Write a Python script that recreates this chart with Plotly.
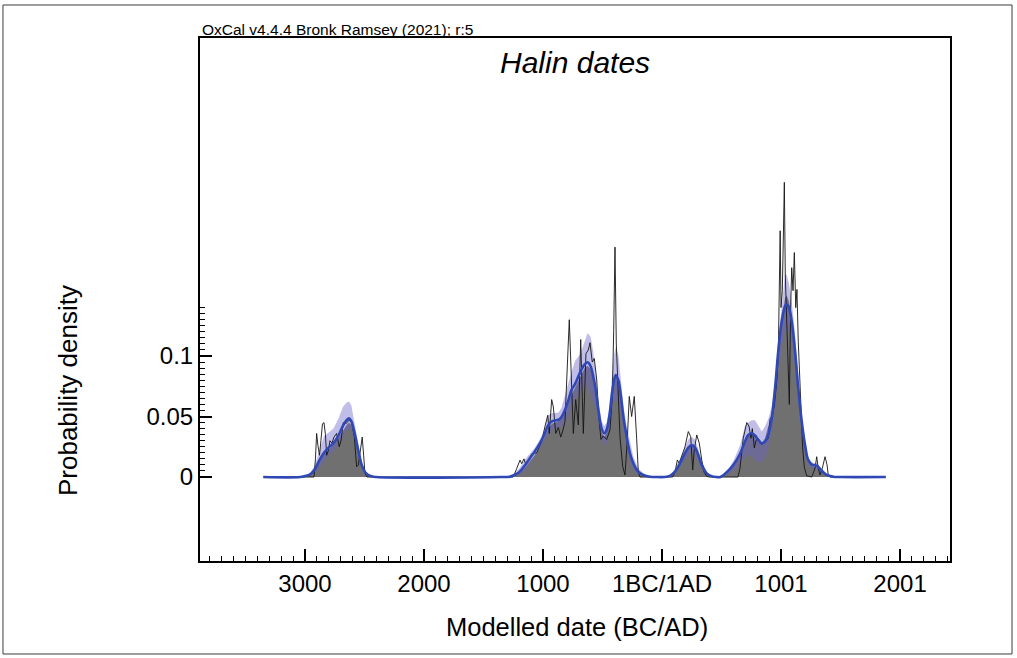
import plotly.graph_objects as go

# ---------------- data (years: negative = BC, 0 = 1BC/1AD boundary) ----------------
RANGE_START, RANGE_END = -3350, 1880

# smooth KDE series, group by group
YEARS_A = [-3040, -3000, -2960, -2920, -2880, -2840, -2800, -2760, -2720, -2680, -2650, -2630, -2610, -2580, -2550, -2520, -2490, -2450, -2400]
MEAN_A = [0, 0.0008, 0.002, 0.006, 0.0135, 0.020, 0.0245, 0.028, 0.034, 0.0425, 0.047, 0.0485, 0.046, 0.035, 0.021, 0.009, 0.0035, 0.0008, 0]
HI_A = [0, 0.0008, 0.003, 0.009, 0.021, 0.034, 0.0368, 0.040, 0.048, 0.058, 0.0616, 0.0624, 0.059, 0.042, 0.026, 0.012, 0.0045, 0.001, 0]
LO_A = [0, 0.0003, 0.001, 0.003, 0.008, 0.013, 0.018, 0.021, 0.026, 0.033, 0.038, 0.040, 0.038, 0.029, 0.016, 0.006, 0.002, 0.0003, 0]
GREY_A = [0, 0.0005, 0.0015, 0.005, 0.012, 0.019, 0.023, 0.027, 0.032, 0.039, 0.043, 0.045, 0.043, 0.034, 0.021, 0.009, 0.003, 0.0006, 0]

YEARS_B = [-1350, -1280, -1240, -1200, -1150, -1110, -1070, -1025, -985, -955, -925, -900, -870, -845, -815, -785, -760, -730, -690, -650, -625, -600, -578, -557, -535, -507, -485, -465, -443, -423, -403, -389, -367, -345, -325, -297, -269, -241, -200, -157, -100, -50]
MEAN_B = [0, 0.0003, 0.0017, 0.004, 0.010, 0.0155, 0.021, 0.028, 0.036, 0.043, 0.046, 0.0467, 0.0473, 0.0495, 0.0556, 0.064, 0.072, 0.077, 0.086, 0.093, 0.0948, 0.0915, 0.083, 0.072, 0.0556, 0.040, 0.036, 0.039, 0.050, 0.0666, 0.080, 0.084, 0.080, 0.0666, 0.050, 0.0334, 0.0196, 0.0114, 0.0044, 0.0017, 0.0003, 0]
HI_B = [0, 0.001, 0.003, 0.007, 0.0147, 0.019, 0.024, 0.031, 0.040, 0.0514, 0.0528, 0.053, 0.0533, 0.057, 0.068, 0.078, 0.087, 0.096, 0.101, 0.112, 0.119, 0.116, 0.104, 0.085, 0.064, 0.046, 0.042, 0.045, 0.056, 0.080, 0.101, 0.107, 0.101, 0.080, 0.060, 0.042, 0.028, 0.017, 0.0072, 0.003, 0.0003, 0]
LO_B = [0, 0, 0.0005, 0.002, 0.005, 0.011, 0.017, 0.024, 0.031, 0.035, 0.039, 0.040, 0.041, 0.042, 0.044, 0.050, 0.058, 0.064, 0.070, 0.076, 0.074, 0.068, 0.062, 0.058, 0.045, 0.032, 0.026, 0.028, 0.040, 0.054, 0.062, 0.064, 0.061, 0.053, 0.040, 0.025, 0.012, 0.006, 0.002, 0.0005, 0, 0]
GREY_B = [0, 0, 0.001, 0.003, 0.008, 0.013, 0.018, 0.025, 0.033, 0.040, 0.044, 0.045, 0.046, 0.049, 0.055, 0.062, 0.068, 0.074, 0.083, 0.090, 0.092, 0.089, 0.080, 0.069, 0.052, 0.037, 0.033, 0.037, 0.048, 0.065, 0.080, 0.086, 0.081, 0.067, 0.050, 0.033, 0.020, 0.012, 0.0045, 0.0015, 0.0002, 0]

YEARS_C = [20, 67, 109, 151, 193, 221, 250, 277, 305, 334, 376, 418, 460]
MEAN_C = [0, 0.001, 0.0044, 0.0113, 0.0196, 0.0243, 0.0265, 0.0245, 0.0182, 0.010, 0.003, 0.0006, 0]
HI_C = [0, 0.0015, 0.006, 0.015, 0.025, 0.031, 0.033, 0.031, 0.023, 0.013, 0.004, 0.001, 0]
LO_C = [0, 0.0005, 0.003, 0.008, 0.014, 0.018, 0.020, 0.018, 0.013, 0.007, 0.002, 0.0003, 0]
GREY_C = [0, 0.001, 0.004, 0.011, 0.019, 0.024, 0.026, 0.024, 0.018, 0.010, 0.003, 0.0005, 0]

YEARS_D = [490, 544, 599, 655, 697, 725, 754, 782, 809, 838, 866, 893, 922, 950, 977, 1006, 1034, 1048, 1067, 1090, 1118, 1145, 1174, 1202, 1229, 1263, 1300, 1336, 1384, 1439, 1500]
MEAN_D = [0, 0.004, 0.010, 0.019, 0.0293, 0.0348, 0.0362, 0.0343, 0.0307, 0.0279, 0.0293, 0.0348, 0.0486, 0.0735, 0.104, 0.1288, 0.1412, 0.1426, 0.1399, 0.1288, 0.104, 0.0735, 0.0459, 0.0265, 0.0141, 0.010, 0.0094, 0.0058, 0.0017, 0.0003, 0]
HI_D = [0, 0.005, 0.013, 0.026, 0.042, 0.045, 0.047, 0.047, 0.042, 0.0376, 0.042, 0.048, 0.058, 0.080, 0.112, 0.138, 0.1675, 0.167, 0.160, 0.145, 0.118, 0.085, 0.052, 0.028, 0.016, 0.012, 0.0113, 0.0075, 0.003, 0.0005, 0]
LO_D = [0, 0.002, 0.005, 0.010, 0.016, 0.018, 0.017, 0.014, 0.012, 0.012, 0.016, 0.024, 0.038, 0.060, 0.086, 0.108, 0.120, 0.122, 0.120, 0.112, 0.090, 0.062, 0.038, 0.020, 0.010, 0.007, 0.006, 0.004, 0.001, 0, 0]
GREY_D = [0, 0.004, 0.010, 0.019, 0.029, 0.035, 0.036, 0.034, 0.030, 0.028, 0.032, 0.042, 0.050, 0.074, 0.104, 0.130, 0.148, 0.150, 0.145, 0.130, 0.104, 0.072, 0.044, 0.025, 0.013, 0.009, 0.008, 0.005, 0.0015, 0.0002, 0]

# summed (unmodelled) distribution, the thin spiky outline
SUM_YEARS_A = [-2924, -2912, -2902, -2891, -2878, -2866, -2853, -2840, -2828, -2818, -2803, -2790, -2773, -2756, -2734, -2712, -2697, -2678, -2655, -2630, -2608, -2586, -2566, -2551, -2538, -2519, -2507, -2496, -2479]
SUM_A = [0, 0.015, 0.036, 0.026, 0.018, 0.030, 0.044, 0.045, 0.035, 0.018, 0.022, 0.030, 0.028, 0.033, 0.036, 0.025, 0.030, 0.045, 0.044, 0.047, 0.045, 0.034, 0.0085, 0.010, 0.020, 0.033, 0.018, 0.003, 0]
SUM_YEARS_B = [-1250, -1221, -1193, -1179, -1160, -1143, -1124, -1095, -1053, -1011, -983, -960, -947, -927, -913, -893, -871, -851, -834, -815, -792, -779, -759, -745, -725, -703, -683, -661, -639, -619, -605, -586, -569, -549, -529, -513, -493, -465, -437, -418, -406, -395, -384, -367, -353, -330, -311, -292, -275, -255, -233, -213, -199, -185]
SUM_B = [0, 0.007, 0.014, 0.011, 0.015, 0.010, 0.014, 0.019, 0.020, 0.029, 0.042, 0.051, 0.036, 0.064, 0.058, 0.036, 0.041, 0.033, 0.038, 0.046, 0.100, 0.130, 0.075, 0.036, 0.064, 0.043, 0.1136, 0.036, 0.102, 0.105, 0.111, 0.095, 0.098, 0.081, 0.048, 0.031, 0.034, 0.031, 0.039, 0.066, 0.120, 0.190, 0.110, 0.060, 0.033, 0.0086, 0.0017, 0.030, 0.0666, 0.050, 0.0666, 0.032, 0.004, 0]
SUM_YEARS_C = [90, 109, 129, 145, 166, 193, 221, 241, 258, 271, 292, 313, 334, 353, 376, 400]
SUM_C = [0, 0.004, 0.0141, 0.0113, 0.0169, 0.025, 0.0376, 0.0334, 0.0058, 0.0224, 0.0348, 0.028, 0.0141, 0.0041, 0.0005, 0]
SUM_YEARS_D = [639, 655, 683, 712, 731, 748, 759, 776, 790, 809, 838, 866, 893, 908, 927, 944, 964, 977, 986, 993, 1000, 1011, 1019, 1028, 1036, 1048, 1061, 1070, 1081, 1090, 1101, 1112, 1124, 1134, 1145, 1157, 1168, 1182, 1196, 1216, 1258, 1286, 1300, 1313, 1328, 1347, 1370, 1387, 1398, 1412]
SUM_D = [0, 0.0072, 0.032, 0.045, 0.042, 0.032, 0.040, 0.024, 0.030, 0.032, 0.027, 0.030, 0.032, 0.048, 0.051, 0.059, 0.079, 0.100, 0.150, 0.2035, 0.140, 0.154, 0.195, 0.2435, 0.167, 0.125, 0.084, 0.060, 0.140, 0.173, 0.154, 0.1855, 0.140, 0.155, 0.112, 0.085, 0.057, 0.024, 0.008, 0.001, 0, 0.0072, 0.0168, 0.0072, 0.0017, 0.0072, 0.0168, 0.010, 0.001, 0]

X_TICK_VALUES = [-3000, -2000, -1000, 0, 1000, 2000]
X_TICK_LABELS = ["3000", "2000", "1000", "1BC/1AD", "1001", "2001"]
Y_TICK_VALUES = [0, 0.05, 0.1]
Y_TICK_LABELS = ["0", "0.05", "0.1"]

TITLE = "Halin dates"
CREDIT = "OxCal v4.4.4 Bronk Ramsey (2021); r:5"
X_TITLE = "Modelled date (BC/AD)"
Y_TITLE = "Probability density"

# ---------------- assemble ----------------
kde_x = [RANGE_START] + YEARS_A + YEARS_B + YEARS_C + YEARS_D + [RANGE_END]
mean_y = [0] + MEAN_A + MEAN_B + MEAN_C + MEAN_D + [0]
hi_y = [0] + HI_A + HI_B + HI_C + HI_D + [0]
lo_y = [0] + LO_A + LO_B + LO_C + LO_D + [0]
grey_y = [0] + GREY_A + GREY_B + GREY_C + GREY_D + [0]
sum_x = [RANGE_START] + SUM_YEARS_A + SUM_YEARS_B + SUM_YEARS_C + SUM_YEARS_D + [RANGE_END]
sum_y = [0] + SUM_A + SUM_B + SUM_C + SUM_D + [0]

FONT = "Liberation Sans, Arial, Helvetica, sans-serif"

fig = go.Figure()
fig.add_trace(go.Scatter(x=kde_x, y=grey_y, mode="lines", fill="tozeroy",
                         fillcolor="rgb(112,112,112)", line=dict(width=0, color="rgb(112,112,112)"),
                         hoverinfo="skip"))
fig.add_trace(go.Scatter(x=kde_x + kde_x[::-1], y=hi_y + lo_y[::-1], mode="lines", fill="toself",
                         fillcolor="rgba(105,100,200,0.42)", line=dict(width=0),
                         hoverinfo="skip"))
fig.add_trace(go.Scatter(x=sum_x, y=sum_y, mode="lines",
                         line=dict(width=0.9, color="rgb(20,20,20)"), hoverinfo="skip"))
fig.add_trace(go.Scatter(x=kde_x, y=mean_y, mode="lines", line_shape="spline",
                         line=dict(width=2.6, color="rgb(48,72,182)"), hoverinfo="skip"))

x_minor = [v for v in range(-3800, 2401, 100) if v % 1000 != 0]
y_minor = [round(i * 0.005, 3) for i in range(1, 29) if i % 10 != 0]

axis_common = dict(showline=True, linecolor="black", linewidth=2, mirror=True,
                   ticks="inside", ticklen=12, tickwidth=1.5, tickcolor="black",
                   showgrid=False, zeroline=False,
                   tickfont=dict(family=FONT, size=24, color="black"))

fig.update_layout(
    width=1017, height=658,
    margin=dict(l=200, r=67, t=38, b=97),
    paper_bgcolor="white", plot_bgcolor="white",
    showlegend=False,
    xaxis=dict(range=[-3882, 2420], tickmode="array", tickvals=X_TICK_VALUES, ticktext=X_TICK_LABELS,
               minor=dict(tickmode="array", tickvals=x_minor, ticks="inside", ticklen=5,
                          tickwidth=1, tickcolor="black"),
               **axis_common),
    yaxis=dict(range=[-0.0694, 0.3628], tickmode="array", tickvals=Y_TICK_VALUES, ticktext=Y_TICK_LABELS,
               minor=dict(tickmode="array", tickvals=y_minor, ticks="inside", ticklen=5,
                          tickwidth=1, tickcolor="black"),
               **axis_common),
    shapes=[dict(type="rect", xref="paper", yref="paper", x0=-0.2627, x1=1.0827, y0=-0.1778, y1=1.0631,
                 line=dict(color="rgb(60,60,60)", width=1), fillcolor="rgba(0,0,0,0)", layer="below")],
    annotations=[
        dict(text="<i>" + TITLE + "</i>", xref="paper", yref="paper", x=0.5, y=0.954,
             xanchor="center", yanchor="middle", showarrow=False,
             font=dict(family=FONT, size=30, color="black")),
        dict(text=CREDIT, xref="paper", yref="paper", x=0.0, y=1.0153,
             xanchor="left", yanchor="middle", showarrow=False,
             font=dict(family=FONT, size=15.5, color="black")),
        dict(text=X_TITLE, xref="paper", yref="paper", x=0.503, y=-0.126,
             xanchor="center", yanchor="middle", showarrow=False,
             font=dict(family=FONT, size=25.5, color="black")),
        dict(text=Y_TITLE, xref="paper", yref="paper", x=-0.176, y=0.325,
             xanchor="center", yanchor="middle", showarrow=False, textangle=-90,
             font=dict(family=FONT, size=26, color="black")),
    ],
)

fig.write_html("out.html")
